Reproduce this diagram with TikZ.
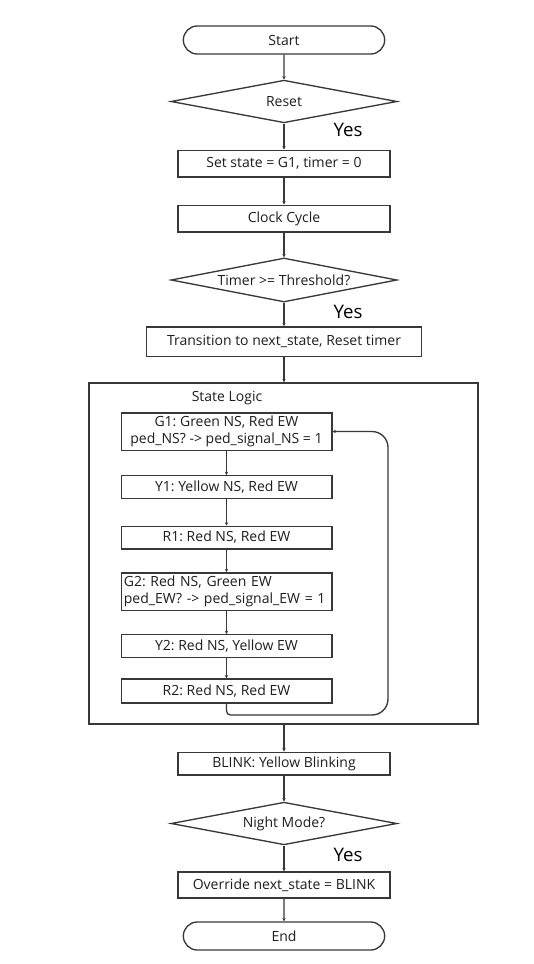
\documentclass[tikz,border=0pt]{standalone}
\usepackage{fontspec}
\setmainfont{Open Sans}
\usetikzlibrary{shapes.geometric,shapes.misc,arrows.meta}
\definecolor{lc}{HTML}{383838}
\definecolor{tc}{HTML}{1E1E1E}
\begin{document}
\begin{tikzpicture}[x=0.75pt,y=-0.75pt,
  every node/.style={font=\fontsize{10.5}{12.75}\selectfont\frenchspacing, text=tc},
  base/.style={draw=lc, line width=1pt, inner sep=2pt},
  term/.style={base, rounded rectangle, minimum width=155pt, minimum height=21pt},
  dec/.style={base, diamond, aspect=5, inner sep=0pt, minimum width=169.5pt, minimum height=32pt},
  proc/.style={base, rectangle, minimum width=159pt, minimum height=20pt},
  inner/.style={base, rectangle, minimum width=158pt, minimum height=17pt},
  yes/.style={font=\fontsize{14}{16}\selectfont, text=black},
  conn/.style={draw=lc, line width=1pt, -{Stealth[length=2.5pt,width=2.5pt]}}
]
\useasboundingbox (0,0) rectangle (534,964);
\fill[white] (0,0) rectangle (534,964);

\node[term] (start) at (284,40) {Start};
\node[dec] (reset) at (284,101.5) {Reset};
\node[yes] (yes1) at (348,130) {Yes};
\node[proc] (set) at (284,163.5) {Set state = G1, timer = 0};
\node[proc] (clock) at (284,218.5) {Clock Cycle};
\node[dec, minimum height=33pt] (timer) at (284,280) {Timer >= Threshold?};
\node[yes] (yes2) at (348,312) {Yes};
\node[proc, minimum width=206pt, minimum height=22pt] (trans) at (284,341.5) {Transition to next\_state, Reset timer};

\node[draw=lc, line width=1pt, minimum width=291.75pt, minimum height=255.75pt, inner sep=0pt] (sl) at (283.5,553.5) {};
\node (sltitle) at (227,398) {State Logic};

\node[inner, minimum height=28pt, align=center] (g1) at (226.5,431.5) {G1: Green NS, Red EW\\ped\_NS? -> ped\_signal\_NS = 1};
\node[inner] (y1) at (226.5,487) {Y1: Yellow NS, Red EW};
\node[inner] (r1) at (226.5,537.5) {R1: Red NS, Red EW};
\node[inner, minimum height=28pt, text width=154pt, align=left] (g2) at (226.5,591.5) {G2: Red NS, Green EW\\ped\_EW? -> ped\_signal\_EW = 1};
\node[inner] (y2) at (226.5,646) {Y2: Red NS, Yellow EW};
\node[inner, minimum height=18pt] (r2) at (226.5,691) {R2: Red NS, Red EW};
\coordinate (lb) at (226.5,715);
\coordinate (lr) at (388,715);

\node[proc, minimum height=17pt] (blink) at (284,763.5) {BLINK: Yellow Blinking};
\node[dec] (night) at (284,823.5) {Night Mode?};
\node[yes] (yes3) at (348,855) {Yes};
\node[proc, minimum height=19.5pt] (over) at (284,885) {Override next\_state = BLINK};
\node[term] (end) at (284,936) {End};

\draw[conn] (start) -- (reset);
\draw[conn] (reset) -- (set);
\draw[conn] (set) -- (clock);
\draw[conn] (clock) -- (timer);
\draw[conn] (timer) -- (trans);
\draw[conn] (trans.south) -- (trans.south |- sl.north);
\draw[conn] (g1) -- (y1);
\draw[conn] (y1) -- (r1);
\draw[conn] (r1) -- (g2);
\draw[conn] (g2) -- (y2);
\draw[conn] (y2) -- (r2);
\draw[conn, rounded corners=12pt] (r2.south) {[rounded corners=3pt] -- (lb)} -- (lr) -- (lr |- g1.east) -- (g1.east);
\draw[conn] (sl.south -| blink.north) -- (blink);
\draw[conn] (blink) -- (night);
\draw[conn] (night) -- (over);
\draw[conn] (over) -- (end);
\end{tikzpicture}
\end{document}
